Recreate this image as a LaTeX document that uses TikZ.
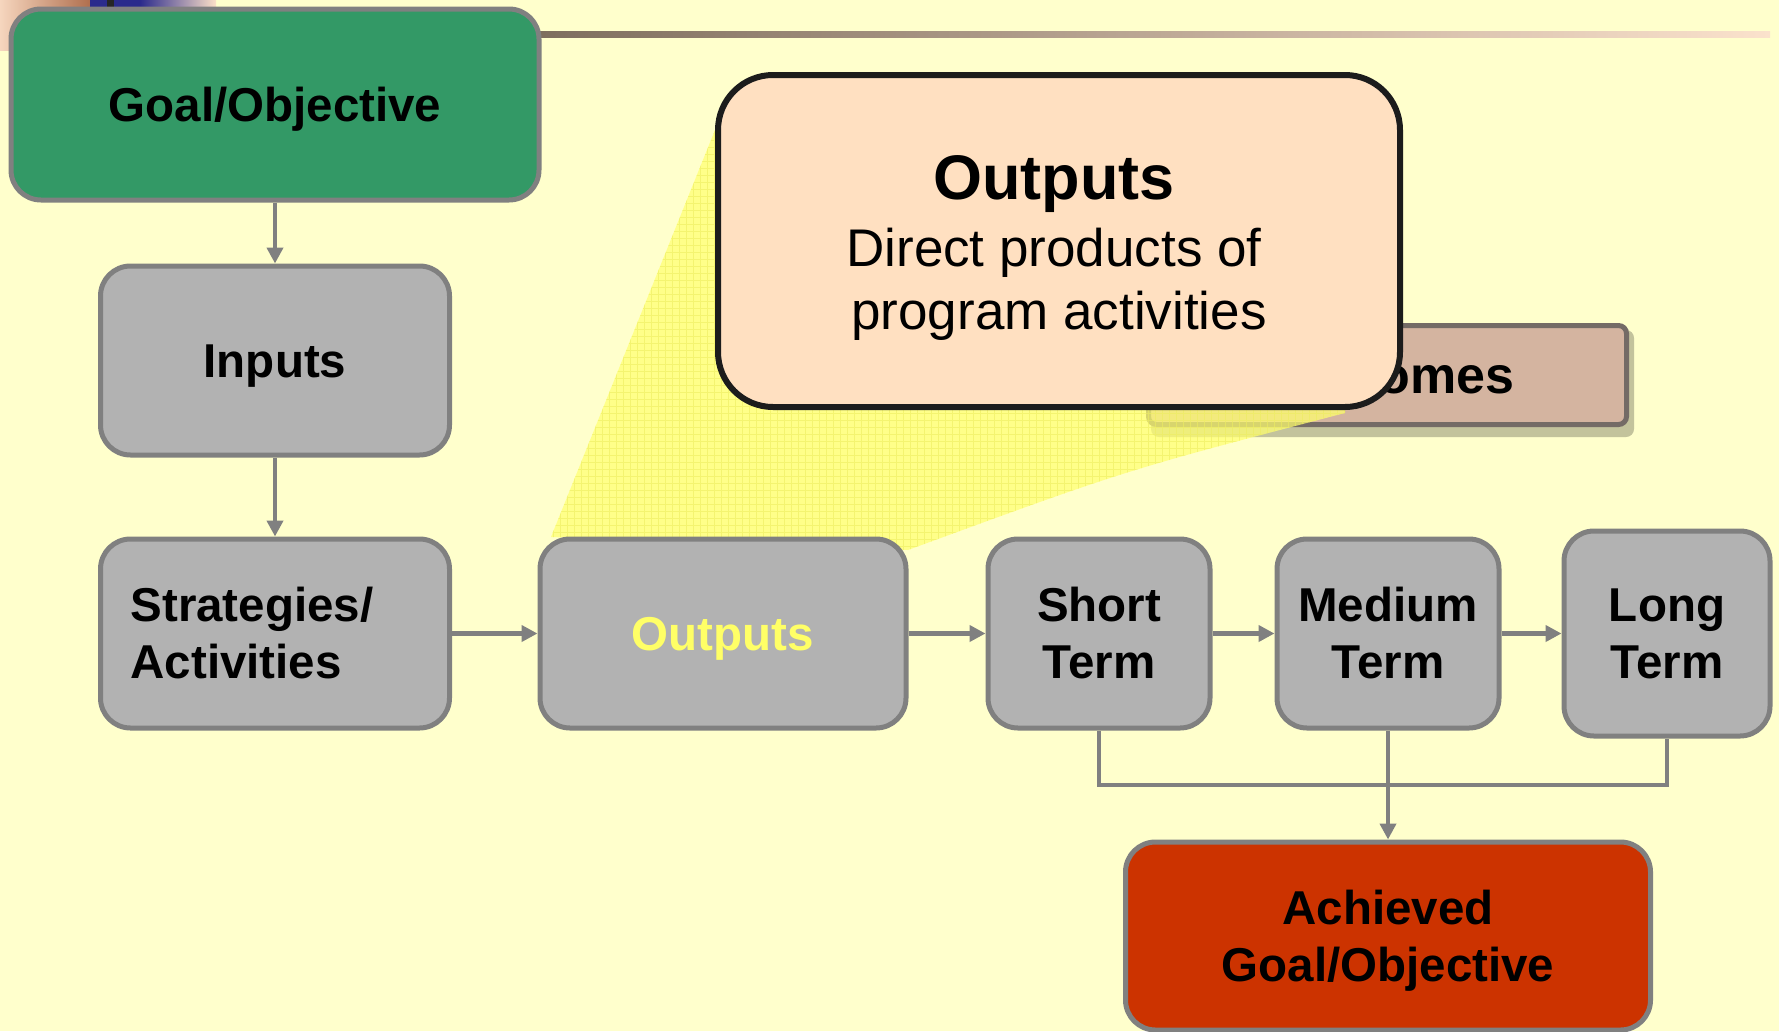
\documentclass[tikz,border=0pt]{standalone}
\usepackage{fontspec}
\setmainfont{Liberation Sans}
\usetikzlibrary{arrows.meta}
\definecolor{bg}{HTML}{FFFFCC}
\definecolor{goalgreen}{HTML}{339966}
\definecolor{boxgray}{HTML}{B2B2B2}
\definecolor{bordergray}{HTML}{808080}
\definecolor{callfill}{HTML}{FFE0C1}
\definecolor{callborder}{HTML}{1C1C1C}
\definecolor{outfill}{HTML}{D4B4A0}
\definecolor{outborder}{HTML}{746B66}
\definecolor{achred}{HTML}{CC3300}
\definecolor{outyellow}{HTML}{FFFF66}
\definecolor{beamyellow}{HTML}{FFFF70}
\definecolor{gridyellow}{HTML}{EDED60}
\definecolor{shadowcol}{HTML}{B4B490}
\definecolor{decopeach}{HTML}{F6D6BE}
\definecolor{decobrown}{HTML}{B06F4E}
\definecolor{deconavy}{HTML}{2B2B8C}
\definecolor{decopeachb}{HTML}{FCE0C8}
\definecolor{linebrown}{HTML}{7E6E5E}
\definecolor{linepeach}{HTML}{FBE2CC}
\newcommand\boxfont{\fontsize{47.5}{57}\selectfont\bfseries}
\begin{document}
\begin{tikzpicture}[x=1pt,y=-1pt,
  box/.style={draw=bordergray, line width=5pt, rounded corners=30pt, fill=boxgray,
    align=center, inner sep=0pt, font=\boxfont},
  single/.style={text height=34pt, text depth=0pt},
  conn/.style={draw=bordergray, line width=4.2pt},
  arr/.style={conn, -{Triangle[length=16pt,width=16pt]}}]
\useasboundingbox (0,0) rectangle (1779,1031);
\fill[bg] (0,0) rectangle (1779,1031);
% top-left decoration
\shade[left color=decopeach, right color=decobrown] (0,0) rectangle (90,50);
\fill[deconavy] (90,0) rectangle (140,50);
\fill[black!85] (107,0) rectangle (114,50);
\shade[left color=deconavy, right color=decopeachb] (140,0) rectangle (216,50);
% top rule
\shade[left color=linebrown, right color=linepeach] (540,31) rectangle (1770,37);
% goal
\node[box, single, fill=goalgreen, minimum width=528pt, minimum height=191pt] (goal) at (275,104.5) {Goal/Objective};
% outcomes header with shadow
\fill[shadowcol, fill opacity=0.8, rounded corners=8pt] (1151,330) rectangle (1634,437);
\node[draw=outborder, line width=5pt, fill=outfill, rounded corners=8pt, minimum width=478pt,
  minimum height=99pt, inner sep=0pt, font=\fontsize{52}{60}\selectfont\bfseries,
  text height=37pt, text depth=0pt] (outcomes) at (1387.5,375) {Outcomes};
% beam
\fill[beamyellow, fill opacity=0.72] (551,537) -- (715,130) -- (1345,130) -- (1345,413) .. controls (1126,470) .. (908,550) -- cycle;
\begin{scope}
\clip (551,537) -- (715,130) -- (1345,130) -- (1345,413) .. controls (1126,470) .. (908,550) -- cycle;
\draw[gridyellow, line width=0.5pt, opacity=0.6, step=7pt] (540,560) grid (1350,120);
\end{scope}
% callout
\node[draw=callborder, line width=6pt, fill=callfill, rounded corners=55pt, minimum width=682pt,
  minimum height=332pt, inner sep=0pt] (callout) at (1059,241) {};
\node[anchor=north, inner sep=0pt, align=center, font=\fontsize{53}{63}\selectfont] (calltext) at (1054,155)
  {{\fontsize{63}{63}\selectfont\bfseries Outputs}\\[4pt]Direct products of\\\hspace*{10pt}program activities};
% main boxes
\node[box, single, minimum width=349pt, minimum height=189pt] (inputs) at (275,360.5) {Inputs};
\node[box, minimum width=349pt, minimum height=189pt, text width=289pt, align=left] (strat) at (275,633.5) {Strategies/\\Activities};
\node[box, single, minimum width=366pt, minimum height=189pt, text=outyellow] (outp) at (723,633.5) {Outputs};
\node[box, minimum width=222pt, minimum height=189pt] (short) at (1099,633.5) {Short\\Term};
\node[box, minimum width=222pt, minimum height=189pt] (medium) at (1388,633.5) {Medium\\Term};
\node[box, minimum width=206pt, minimum height=205pt] (long) at (1667,633.5) {Long\\Term};
\node[box, fill=achred, minimum width=525pt, minimum height=188pt] (achieved) at (1388,936) {Achieved\\Goal/Ob\smash{j}ective};
% connectors
\draw[arr] (goal) -- (inputs);
\draw[arr] (inputs) -- (strat);
\draw[arr] (strat) -- (outp);
\draw[arr] (outp) -- (short);
\draw[arr] (short) -- (medium);
\draw[arr] (medium) -- (long);
\coordinate (bus) at (1388,785);
\draw[conn] (short.south) -- (short.south |- bus) -- (long.south |- bus) -- (long.south);
\draw[arr] (medium.south) -- (achieved.north);
\end{tikzpicture}
\end{document}
